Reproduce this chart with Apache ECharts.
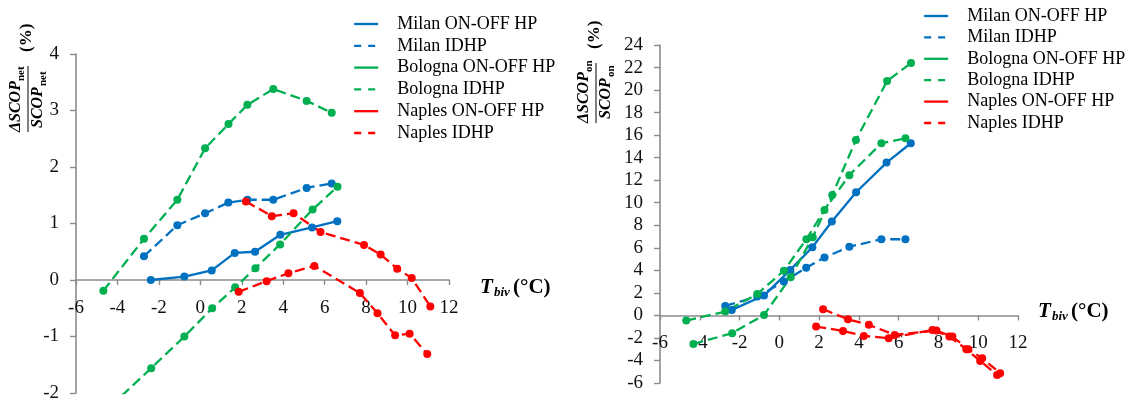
<!DOCTYPE html>
<html><head><meta charset="utf-8">
<script src="https://cdn.jsdelivr.net/npm/echarts@6/dist/echarts.min.js"></script>
<style>html,body{margin:0;padding:0;background:#fff}#c{width:1133px;height:408px}</style>
</head><body><div id="c"></div>
<script>
// ---- data ----
const seriesNames = ['Milan ON-OFF HP','Milan IDHP','Bologna ON-OFF HP','Bologna IDHP','Naples ON-OFF HP','Naples IDHP'];
const xTicks = [-6,-4,-2,0,2,4,6,8,10,12];
const leftYTicks = [-2,-1,0,1,2,3,4];
const rightYTicks = [-6,-4,-2,0,2,4,6,8,10,12,14,16,18,20,22,24];

// bivalent temperatures (°C)
const milanOnX  = [-2.39,-0.77,0.55,1.66,2.64,3.86,5.39,6.61];
const milanIdX  = [-2.72,-1.11,0.23,1.35,2.27,3.52,5.13,6.34];
const bolognaOnX = [-4.32,-2.37,-0.77,0.57,1.68,2.66,3.85,5.42,6.62];
const bolognaIdX = [-4.68,-2.72,-1.11,0.23,1.36,2.27,3.52,5.13,6.34];
const naplesOnX = [2.2,3.45,4.5,5.8,7.9,8.7,9.5,10.2,11.1];
const naplesIdX = [1.85,3.2,4.25,5.5,7.7,8.55,9.4,10.1,10.95];

// left chart: ΔSCOPnet/SCOPnet (%)
const milanOnNet  = [0.0,0.06,0.17,0.48,0.50,0.80,0.93,1.04];
const milanIdNet  = [0.42,0.97,1.18,1.37,1.42,1.42,1.63,1.71];
const bolognaOnNet = [-2.23,-1.56,-1.0,-0.50,-0.13,0.21,0.63,1.25,1.65];
const bolognaIdNet = [-0.19,0.73,1.42,2.33,2.76,3.10,3.38,3.17,2.96];
const naplesOnNet = [1.39,1.13,1.18,0.85,0.62,0.45,0.20,0.035,-0.47];
const naplesIdNet = [-0.21,-0.02,0.12,0.25,-0.23,-0.59,-0.98,-0.95,-1.31];

// right chart: ΔSCOPon/SCOPon (%)
const milanOnOn  = [0.49,1.76,4.04,6.05,8.33,10.93,13.56,15.28];
const milanIdOn  = [0.84,1.67,3.0,4.24,5.13,6.1,6.76,6.76];
const bolognaOnOn = [-2.53,-1.58,0.04,3.39,6.94,10.69,15.57,20.8,22.4];
const bolognaIdOn = [-0.46,0.34,1.9,3.97,6.76,9.36,12.45,15.28,15.72];
const naplesOnOn = [0.55,-0.34,-0.84,-1.73,-1.35,-1.88,-3.0,-3.8,-5.13];
const naplesIdOn = [-0.99,-1.38,-1.82,-2.03,-1.29,-1.88,-3.0,-4.04,-5.28];

// ---- styling ----
const FONT = '"Liberation Serif", "Times New Roman", serif';
const BLUE = '#0070C0', GREEN = '#00B050', RED = '#FF0000';
const AXIS = '#8C8C8C';
const DASH = [10, 5];

const zip = (xs, ys) => xs.map((x, i) => [x, ys[i]]);

const leftSets = [[milanOnX,milanOnNet],[milanIdX,milanIdNet],[bolognaOnX,bolognaOnNet],[bolognaIdX,bolognaIdNet],[naplesOnX,naplesOnNet],[naplesIdX,naplesIdNet]];
const rightSets = [[milanOnX,milanOnOn],[milanIdX,milanIdOn],[bolognaOnX,bolognaOnOn],[bolognaIdX,bolognaIdOn],[naplesOnX,naplesOnOn],[naplesIdX,naplesIdOn]];
const colors = [BLUE, BLUE, GREEN, GREEN, RED, RED];
// as drawn in the figure: only Milan ON-OFF is a solid line
const drawnSolid = [true, false, false, false, false, false];
const legendSolid = [true, false, true, false, true, false];

function makeSeries(sets, idx) {
  return sets.map((s, i) => ({
    name: seriesNames[i], type: 'line', xAxisIndex: idx, yAxisIndex: idx,
    data: zip(s[0], s[1]),
    symbol: 'circle', symbolSize: 8, showAllSymbol: true, clip: true,
    color: colors[i],
    itemStyle: { color: colors[i] },
    lineStyle: { color: colors[i], width: 2.3, type: drawnSolid[i] ? 'solid' : DASH },
    emphasis: { disabled: true }, animation: false
  }));
}

const grids = [
  { left: 76, top: 54, width: 373, height: 339 },
  { left: 660, top: 45, width: 358, height: 338 }
];
// x axis crosses the y axis at y = 0
function zeroOffset(grid, ticks) {
  const lo = ticks[0], hi = ticks[ticks.length - 1];
  return -grid.height * (0 - lo) / (hi - lo);
}

function xAxisDef(gi, yTicks, margin) {
  return {
    type: 'value', gridIndex: gi, min: xTicks[0], max: xTicks[xTicks.length - 1], interval: 2,
    position: 'bottom', offset: zeroOffset(grids[gi], yTicks),
    axisLine: { onZero: false, lineStyle: { color: AXIS, width: 1.6 } },
    axisTick: { show: true, length: 5, lineStyle: { color: AXIS, width: 1.4 } },
    axisLabel: { fontFamily: FONT, fontSize: 19, color: '#111', margin: margin },
    splitLine: { show: false }
  };
}
function yAxisDef(gi, ticks, interval) {
  return {
    type: 'value', gridIndex: gi, min: ticks[0], max: ticks[ticks.length - 1], interval: interval,
    axisLine: { show: true, onZero: false, lineStyle: { color: AXIS, width: 1.6 } },
    axisTick: { show: true, length: 6, lineStyle: { color: AXIS, width: 1.4 } },
    axisLabel: { fontFamily: FONT, fontSize: 19, color: '#111', margin: 17 },
    splitLine: { show: false }
  };
}

const legendData = seriesNames.map((n, i) => ({ name: n, lineStyle: { type: legendSolid[i] ? 'solid' : [7, 7], width: 2.3 } }));
function legendDef(left, top, gap) {
  return {
    orient: 'vertical', left: left, top: top, padding: 0, itemWidth: 24, itemHeight: 12, itemGap: gap,
    selectedMode: false,
    itemStyle: { opacity: 0 },
    textStyle: { fontFamily: FONT, fontSize: 18, color: '#000', padding: [0, 0, 0, 14] },
    data: legendData
  };
}

function yTitle(ox, oy, sub, barLen) {
  return {
    type: 'group', x: ox, y: oy, rotation: Math.PI / 2, silent: true,
    children: [
      { type: 'text', x: 0, y: -12, style: { text: 'ΔSCOP', font: 'italic bold 16px ' + FONT, fill: '#000', verticalAlign: 'middle', align: 'left' } },
      { type: 'text', x: 51, y: -7, style: { text: sub, font: 'bold 11px ' + FONT, fill: '#000', verticalAlign: 'middle', align: 'left' } },
      { type: 'line', shape: { x1: 0, y1: 0, x2: barLen, y2: 0 }, style: { stroke: '#000', lineWidth: 1 } },
      { type: 'text', x: 4, y: 10, style: { text: 'SCOP', font: 'italic bold 16px ' + FONT, fill: '#000', verticalAlign: 'middle', align: 'left' } },
      { type: 'text', x: 4 + 42, y: 15, style: { text: sub, font: 'bold 11px ' + FONT, fill: '#000', verticalAlign: 'middle', align: 'left' } },
      { type: 'text', x: barLen + 14, y: -1, style: { text: '(%)', font: 'bold 17px ' + FONT, fill: '#000', verticalAlign: 'middle', align: 'left' } }
    ]
  };
}
function xTitle(x0, ym) {
  return [
    { type: 'text', x: x0, y: ym, silent: true, style: { text: 'T', font: 'italic bold 21px ' + FONT, fill: '#000', verticalAlign: 'middle' } },
    { type: 'text', x: x0 + 14, y: ym + 5, silent: true, style: { text: 'biv', font: 'italic bold 13px ' + FONT, fill: '#000', verticalAlign: 'middle' } },
    { type: 'text', x: x0 + 33, y: ym, silent: true, style: { text: '(°C)', font: 'bold 21px ' + FONT, fill: '#000', verticalAlign: 'middle' } }
  ];
}

const chart = echarts.init(document.getElementById('c'), null, { renderer: 'canvas' });
chart.setOption({
  animation: false,
  backgroundColor: '#fff',
  grid: grids,
  xAxis: [xAxisDef(0, leftYTicks, 19), xAxisDef(1, rightYTicks, 18)],
  yAxis: [yAxisDef(0, leftYTicks, 1), yAxisDef(1, rightYTicks, 2)],
  legend: [legendDef(353, 15, 3.8), legendDef(923, 7, 3.4)],
  graphic: [
    yTitle(28, 132, 'net', 66),
    yTitle(596, 123, 'on', 60),
    ...xTitle(480, 288),
    ...xTitle(1038, 312)
  ],
  series: [...makeSeries(leftSets, 0), ...makeSeries(rightSets, 1)]
});
</script>
</body></html>
